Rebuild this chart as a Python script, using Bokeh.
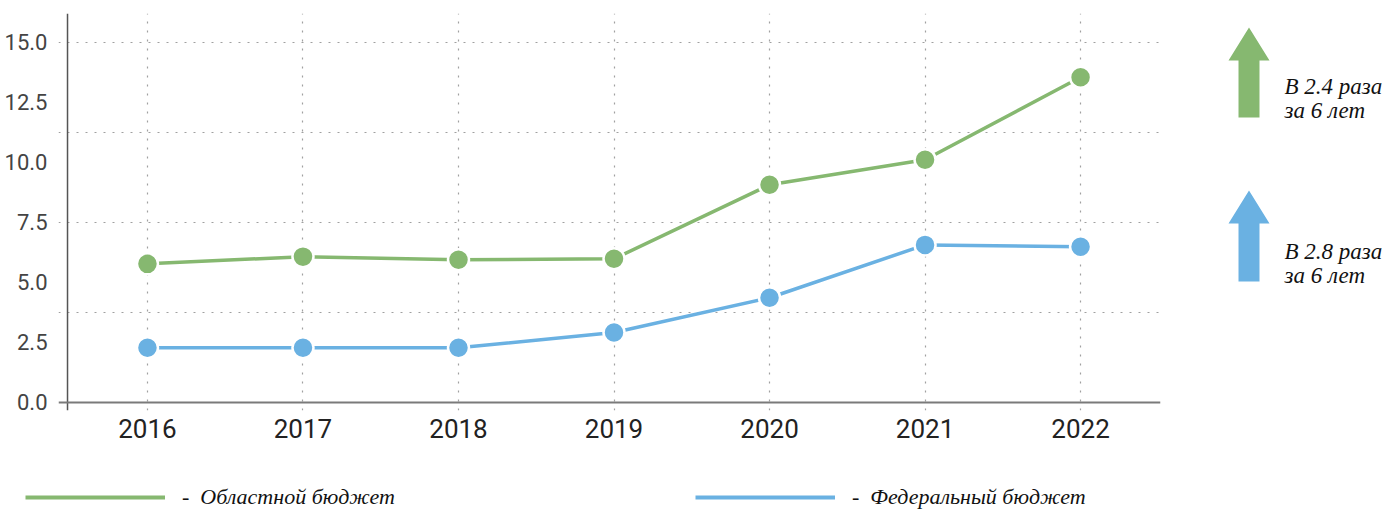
from bokeh.plotting import figure
from bokeh.layouts import row, column
from bokeh.models import (Range1d, FixedTicker, PrintfTickFormatter, Span, Legend, LegendItem,
                          ColumnDataSource)
from bokeh.core.properties import value
from bokeh.embed import file_html
from bokeh.resources import INLINE

# ---------------- data ----------------
years = [2016, 2017, 2018, 2019, 2020, 2021, 2022]
regional = [5.77, 6.07, 5.94, 5.98, 9.06, 10.1, 13.54]
federal = [2.28, 2.28, 2.28, 2.91, 4.36, 6.56, 6.48]
y_ticks = [0.0, 2.5, 5.0, 7.5, 10.0, 12.5, 15.0]
grid_ticks = [3.75, 7.5, 11.25, 15.0]
series_names = ["Областной бюджет", "Федеральный бюджет"]
notes = [["В 2.4 раза", "за 6 лет"], ["В 2.8 раза", "за 6 лет"]]

GREEN = "#86B870"
BLUE = "#6AB1E2"
TICK_FONT = "'Liberation Sans Narrow', 'Roboto', sans-serif"
NOTE_FONT = "Liberation Serif"

# ---------------- main chart ----------------
p = figure(width=1168, height=458, output_backend="svg", toolbar_location=None,
           x_range=Range1d(2015.428, 2022.514), y_range=Range1d(-0.333, 16.19),
           min_border_left=58, min_border_right=8, min_border_top=13, min_border_bottom=48)
p.outline_line_color = None

p.xaxis.ticker = FixedTicker(ticks=years)
p.yaxis.ticker = FixedTicker(ticks=y_ticks)
p.yaxis.formatter = PrintfTickFormatter(format="%.1f")
for ax in (p.xaxis[0], p.yaxis[0]):
    ax.axis_line_color = None
    ax.major_tick_line_color = None
    ax.minor_tick_line_color = None
    ax.major_tick_out = 0
    ax.major_tick_in = 0
    ax.major_label_text_font = TICK_FONT
p.yaxis.major_label_text_font_size = "22px"
p.yaxis.major_label_text_color = "#444444"
p.yaxis.major_label_standoff = 11
p.xaxis.major_label_text_font_size = "26px"
p.xaxis.major_label_text_color = "#222222"
p.xaxis.major_label_standoff = 8

p.xgrid.ticker = FixedTicker(ticks=years)
p.ygrid.ticker = FixedTicker(ticks=grid_ticks)
for g in (p.xgrid[0], p.ygrid[0]):
    g.grid_line_color = "#a0a0a0"
    g.grid_line_dash = "2 7"
    g.grid_line_width = 1.2

# axis lines drawn as spans so they overshoot each other like the original
p.add_layout(Span(location=2015.486, dimension="height", line_color="#555555", line_width=1.5))
p.add_layout(Span(location=0, dimension="width", line_color="#7a7a7a", line_width=2))

src = ColumnDataSource(dict(x=years, reg=regional, fed=federal))
for col, color in (("reg", GREEN), ("fed", BLUE)):
    p.line("x", col, source=src, line_color=color, line_width=3.5)
    p.scatter("x", col, source=src, size=21, fill_color=color, line_color="white", line_width=2.5)

# ---------------- right-hand notes ----------------
# the row aligns this frame with the main frame (pixel rows 13..410), so the
# range is set to pixel units of the page
side = figure(width=219, height=458, output_backend="svg", toolbar_location=None,
              x_range=Range1d(0, 219), y_range=Range1d(410, 13),
              x_axis_location=None, y_axis_location=None,
              min_border=0, min_border_left=0, min_border_right=0, min_border_top=13, min_border_bottom=48)
side.outline_line_color = None
side.xgrid.visible = False
side.ygrid.visible = False


def arrow(cx, tip, base, bottom, half_head=20.5, half_shaft=10.5):
    xs = [cx, cx + half_head, cx + half_shaft, cx + half_shaft, cx - half_shaft, cx - half_shaft, cx - half_head]
    ys = [tip, base, base, bottom, bottom, base, base]
    return xs, ys


ax1, ay1 = arrow(80.5, 27, 60, 117)
ax2, ay2 = arrow(80.5, 190, 223, 281)
side.patch(ax1, ay1, fill_color=GREEN, line_color=None)
side.patch(ax2, ay2, fill_color=BLUE, line_color=None)
side.text(x=[116, 116, 116, 116], y=[86, 110, 251, 275],
          text=[notes[0][0], notes[0][1], notes[1][0], notes[1][1]],
          text_font=value(NOTE_FONT), text_font_style="italic", text_font_size="23px",
          text_color="#111111", text_baseline="alphabetic", text_align="left")

# ---------------- legend strip ----------------
leg = figure(width=1387, height=51, output_backend="svg", toolbar_location=None,
             x_range=Range1d(0, 1), y_range=Range1d(0, 1),
             x_axis_location=None, y_axis_location=None,
             min_border=0, min_border_left=0, min_border_right=0, min_border_top=0, min_border_bottom=0)
leg.outline_line_color = None
leg.xgrid.visible = False
leg.ygrid.visible = False
r1 = leg.line(x=[5, 6], y=[5, 6], line_color=GREEN, line_width=4)
r2 = leg.line(x=[5, 6], y=[5, 6], line_color=BLUE, line_width=4)
for r, name, loc in ((r1, series_names[0], (25, -2)), (r2, series_names[1], (695, -2))):
    lg = Legend(items=[LegendItem(label="-\u00a0\u00a0" + name, renderers=[r])],
                location=loc, orientation="horizontal", glyph_width=140, glyph_height=28,
                label_height=28, label_standoff=17, padding=0, margin=0, spacing=0,
                border_line_color=None, background_fill_alpha=0,
                label_text_font=NOTE_FONT, label_text_font_style="italic",
                label_text_font_size="22px", label_text_color="#111111")
    leg.add_layout(lg)

layout = column(row(p, side), leg)
open("out.html", "w").write(file_html(layout, INLINE))
